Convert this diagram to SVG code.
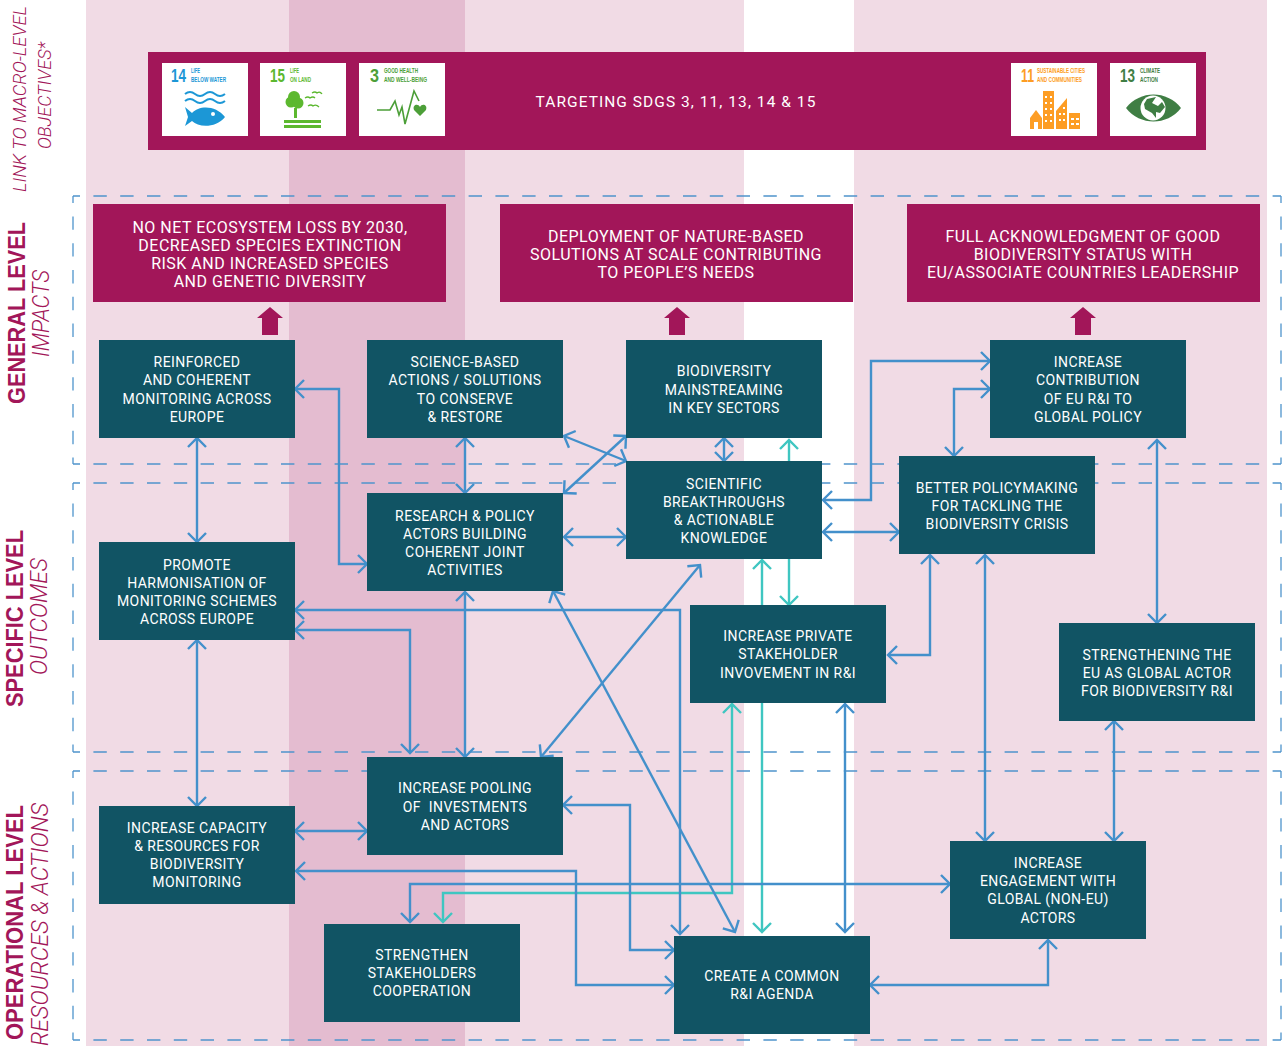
<svg xmlns="http://www.w3.org/2000/svg" width="1282" height="1046" viewBox="0 0 1282 1046">
<style>
.n{fill:#115464}
.m{fill:#a21659}
.t{font-family:Roboto,"Noto Sans",sans-serif;font-weight:400;font-size:14px;letter-spacing:.42px;fill:#fff;text-anchor:middle}
.h{font-family:Roboto,"Noto Sans",sans-serif;font-weight:400;font-size:16px;letter-spacing:.5px;fill:#fff;text-anchor:middle}
.side{fill:#a21659}
.b{font-family:"Liberation Sans",Arial,sans-serif;font-size:24.5px;font-weight:700}
.i{font-family:Roboto,"Noto Sans",sans-serif;font-size:23px;font-style:italic;font-weight:300}
.i2{font-family:Roboto,"Noto Sans",sans-serif;font-size:18px;font-style:italic;font-weight:300}
.c{fill:none;stroke:#4390cb;stroke-width:2.4;marker-start:url(#ab);marker-end:url(#ab)}
.a{fill:none;stroke:#3fc6c1;stroke-width:2.4;marker-start:url(#aa);marker-end:url(#aa)}
.d{fill:none;stroke:#4f94cc;stroke-width:1.3;stroke-dasharray:13.4 13.4;stroke-dashoffset:6.4}
.sn{font-family:"Liberation Sans",sans-serif;font-weight:700;font-size:18px}
.sl{font-family:"Liberation Sans",sans-serif;font-weight:700;font-size:6.5px}
</style>
<defs>
<marker id="ab" viewBox="-12 -12 14 24" refX="0" refY="0" markerWidth="14" markerHeight="24" markerUnits="userSpaceOnUse" orient="auto-start-reverse"><path d="M-9,-9L0,0L-9,9" fill="none" stroke="#4390cb" stroke-width="2.4"/></marker>
<marker id="aa" viewBox="-12 -12 14 24" refX="0" refY="0" markerWidth="14" markerHeight="24" markerUnits="userSpaceOnUse" orient="auto-start-reverse"><path d="M-9,-9L0,0L-9,9" fill="none" stroke="#3fc6c1" stroke-width="2.4"/></marker>
</defs>
<rect width="1282" height="1046" fill="#fff"/>
<rect x="86" y="0" width="658" height="1046" fill="#f1dbe5"/>
<rect x="854" y="0" width="413" height="1046" fill="#f1dbe5"/>
<rect x="289" y="0" width="176" height="1046" fill="#e4bcd0"/>

<g id="side-labels" class="side">
<text class="i2" transform="translate(26,192) rotate(-90)" textLength="186" lengthAdjust="spacingAndGlyphs">LINK TO MACRO-LEVEL</text>
<text class="i2" transform="translate(51,149) rotate(-90)" textLength="107" lengthAdjust="spacingAndGlyphs">OBJECTIVES*</text>
<text class="b" transform="translate(25,404) rotate(-90)" textLength="182" lengthAdjust="spacingAndGlyphs">GENERAL LEVEL</text>
<text class="i" transform="translate(49,357) rotate(-90)" textLength="87" lengthAdjust="spacingAndGlyphs">IMPACTS</text>
<text class="b" transform="translate(22.5,707) rotate(-90)" textLength="177" lengthAdjust="spacingAndGlyphs">SPECIFIC LEVEL</text>
<text class="i" transform="translate(47,675) rotate(-90)" textLength="117" lengthAdjust="spacingAndGlyphs">OUTCOMES</text>
<text class="b" transform="translate(23,1040) rotate(-90)" textLength="235" lengthAdjust="spacingAndGlyphs">OPERATIONAL LEVEL</text>
<text class="i" transform="translate(48,1046) rotate(-90)" textLength="243" lengthAdjust="spacingAndGlyphs">RESOURCES &amp; ACTIONS</text>
</g>

<g id="level-frames">
<path class="d" d="M73,196H1281M73,196V464M1281,196V464M73,464H1281"/>
<path class="d" d="M73,483H1281M73,483V752M1281,483V752M73,752H1281"/>
<path class="d" d="M73,771H1281M73,771V1040M1281,771V1040M73,1040H1281"/>
</g>

<g id="connectors">
<path class="a" d="M789,440V605"/>
<path class="a" d="M762,560V932"/>
<path class="a" d="M443,922V893H732V704"/>
<path class="c" d="M295,389H339V564H367"/>
<path class="c" d="M197,438V542"/>
<path class="c" d="M465,438V493"/>
<path class="c" d="M564,436L626,461"/>
<path class="c" d="M564,493L626,436"/>
<path class="c" d="M724,438V461"/>
<path class="c" d="M564,537H626"/>
<path class="c" d="M823,500H871V361H990"/>
<path class="c" d="M823,532H899"/>
<path class="c" d="M954,456V389H990"/>
<path class="c" d="M1157,440V623"/>
<path class="c" d="M888,655H930V555"/>
<path class="c" d="M985,555V841"/>
<path class="c" d="M1114,721V841"/>
<path class="c" d="M197,640V806"/>
<path class="c" d="M295,610H680V934"/>
<path class="c" d="M295,630H410V753"/>
<path class="c" d="M465,592V757"/>
<path class="c" d="M553,591L735,932"/>
<path class="c" d="M700,565L541,757"/>
<path class="c" d="M295,831H367"/>
<path class="c" d="M563,805H630V950H674"/>
<path class="c" d="M296,871H576V985H674"/>
<path class="c" d="M410,922V884H950"/>
<path class="c" d="M845,704V932"/>
<path class="c" d="M870,985H1048V940"/>
</g>

<g id="sdg-banner">
<rect class="m" x="148" y="52" width="1058" height="98"/>
<text x="676" y="107" font-family="Roboto,Noto Sans,sans-serif" font-weight="400" font-size="15.5" letter-spacing="1.05" fill="#fff" text-anchor="middle">TARGETING SDGS 3, 11, 13, 14 &amp; 15</text>
</g>
<g id="sdg-14">
<rect x="162" y="63" width="86" height="73" fill="#fff"/>
<text class="sn" x="171" y="82" fill="#1c97d6" textLength="15" lengthAdjust="spacingAndGlyphs">14</text>
<text class="sl" x="191" y="73" fill="#1c97d6" textLength="9" lengthAdjust="spacingAndGlyphs">LIFE</text>
<text class="sl" x="191" y="82" fill="#1c97d6" textLength="35" lengthAdjust="spacingAndGlyphs">BELOW WATER</text>
<path d="M185,94q5,-4 10,0t10,0t10,0t10,0M185,101q5,-4 10,0t10,0t10,0t10,0" fill="none" stroke="#1c97d6" stroke-width="2"/>
<path d="M185,107L192,113C199,105 216,105 225,117C216,128 199,128 192,121L185,126L188,117Z" fill="#1c97d6"/>
<circle cx="213" cy="114" r="2" fill="#fff"/>
</g>
<g id="sdg-15">
<rect x="260" y="63" width="86" height="73" fill="#fff"/>
<text class="sn" x="270" y="82" fill="#5cb82f" textLength="15" lengthAdjust="spacingAndGlyphs">15</text>
<text class="sl" x="290" y="73" fill="#5cb82f" textLength="9" lengthAdjust="spacingAndGlyphs">LIFE</text>
<text class="sl" x="290" y="82" fill="#5cb82f" textLength="21" lengthAdjust="spacingAndGlyphs">ON LAND</text>
<circle cx="294" cy="97" r="6" fill="#5cb82f"/><circle cx="291" cy="102" r="5.5" fill="#5cb82f"/><circle cx="298" cy="103" r="5.5" fill="#5cb82f"/>
<rect x="294" y="108" width="3" height="10" fill="#5cb82f"/>
<rect x="284" y="120" width="37" height="3" fill="#5cb82f"/><rect x="284" y="125" width="37" height="3" fill="#5cb82f"/>
<path d="M312,93q3,-2 5,0q3,-2 5,1M305,98q3,-2 5,0q3,-2 5,0M308,106q3,-2 5,0q3,-2 6,1" fill="none" stroke="#5cb82f" stroke-width="1.3"/>
</g>
<g id="sdg-3">
<rect x="359" y="63" width="86" height="73" fill="#fff"/>
<text class="sn" x="370" y="82" fill="#4c9f38" textLength="9" lengthAdjust="spacingAndGlyphs">3</text>
<text class="sl" x="384" y="73" fill="#4c9f38" textLength="34" lengthAdjust="spacingAndGlyphs">GOOD HEALTH</text>
<text class="sl" x="384" y="82" fill="#4c9f38" textLength="43" lengthAdjust="spacingAndGlyphs">AND WELL-BEING</text>
<polyline points="377,110 390,110 395,101 399,115 402,107 405,124 414,91 419,101" fill="none" stroke="#4c9f38" stroke-width="1.6"/>
<path d="M420,116L414,110C412,105 418,103 420,107C422,103 428,105 426,110Z" fill="#4c9f38"/>
</g>
<g id="sdg-11">
<rect x="1011" y="63" width="86" height="73" fill="#fff"/>
<text class="sn" x="1021" y="82" fill="#fd9d24" textLength="13" lengthAdjust="spacingAndGlyphs">11</text>
<text class="sl" x="1037" y="73" fill="#fd9d24" textLength="48" lengthAdjust="spacingAndGlyphs">SUSTAINABLE CITIES</text>
<text class="sl" x="1037" y="82" fill="#fd9d24" textLength="45" lengthAdjust="spacingAndGlyphs">AND COMMUNITIES</text>
<path d="M1030,118L1036,110L1042,118V129H1038V122H1034V129H1030Z" fill="#fd9d24"/>
<path d="M1043,91H1054V129H1043Z" fill="#fd9d24"/>
<path d="M1045,96h2v2h-2zM1050,96h2v2h-2zM1045,102h2v2h-2zM1050,102h2v2h-2zM1045,108h2v2h-2zM1050,108h2v2h-2zM1045,114h2v2h-2zM1050,114h2v2h-2zM1045,120h2v2h-2zM1050,120h2v2h-2z" fill="#fff"/>
<path d="M1056,111L1067,98V129H1056Z" fill="#fd9d24"/>
<path d="M1063,107h2v2h-2zM1059,113h2v2h-2zM1063,113h2v2h-2zM1059,119h2v2h-2zM1063,119h2v2h-2z" fill="#fff"/>
<rect x="1069" y="113" width="11" height="16" fill="#fd9d24"/>
<path d="M1071,118h3v2h-3zM1076,118h3v2h-3zM1071,123h3v2h-3zM1076,123h3v2h-3z" fill="#fff"/>
</g>
<g id="sdg-13">
<rect x="1110" y="63" width="86" height="73" fill="#fff"/>
<text class="sn" x="1120" y="82" fill="#3f7e44" textLength="15" lengthAdjust="spacingAndGlyphs">13</text>
<text class="sl" x="1140" y="73" fill="#3f7e44" textLength="20" lengthAdjust="spacingAndGlyphs">CLIMATE</text>
<text class="sl" x="1140" y="82" fill="#3f7e44" textLength="18" lengthAdjust="spacingAndGlyphs">ACTION</text>
<path d="M1126,108C1140,90 1167,90 1181,108C1167,126 1140,126 1126,108Z" fill="#3f7e44"/>
<circle cx="1153" cy="108" r="12.5" fill="#fff"/>
<path d="M1147,99L1156,97L1152,103L1158,106L1162,102L1165,107L1160,113L1156,112L1156,118L1152,113L1145,109L1144,104Z" fill="#3f7e44"/>
</g>

<g id="impact-1"><rect class="m" x="93" y="204" width="353" height="98"/>
<text class="h" x="270" y="233">NO NET ECOSYSTEM LOSS BY 2030,</text><text class="h" x="270" y="251">DECREASED SPECIES EXTINCTION</text><text class="h" x="270" y="269">RISK AND INCREASED SPECIES</text><text class="h" x="270" y="287">AND GENETIC DIVERSITY</text></g>
<g id="impact-2"><rect class="m" x="500" y="204" width="353" height="98"/>
<text class="h" x="676" y="242">DEPLOYMENT OF NATURE-BASED</text><text class="h" x="676" y="260">SOLUTIONS AT SCALE CONTRIBUTING</text><text class="h" x="676" y="278">TO PEOPLE’S NEEDS</text></g>
<g id="impact-3"><rect class="m" x="907" y="204" width="353" height="98"/>
<text class="h" x="1083" y="242">FULL ACKNOWLEDGMENT OF GOOD</text><text class="h" x="1083" y="260">BIODIVERSITY STATUS WITH</text><text class="h" x="1083" y="278">EU/ASSOCIATE COUNTRIES LEADERSHIP</text></g>
<path id="up-1" class="m" d="M270,307L283,318H278V335H262V318H257Z"/>
<path id="up-2" class="m" d="M677,307L690,318H685V335H669V318H664Z"/>
<path id="up-3" class="m" d="M1083,307L1096,318H1091V335H1075V318H1070Z"/>

<g id="reinforced"><rect class="n" x="99" y="340" width="196" height="98"/>
<text class="t" x="197" y="367">REINFORCED</text><text class="t" x="197" y="385">AND COHERENT</text><text class="t" x="197" y="404">MONITORING ACROSS</text><text class="t" x="197" y="422">EUROPE</text></g>
<g id="science"><rect class="n" x="367" y="340" width="196" height="98"/>
<text class="t" x="465" y="367">SCIENCE-BASED</text><text class="t" x="465" y="385">ACTIONS / SOLUTIONS</text><text class="t" x="465" y="404">TO CONSERVE</text><text class="t" x="465" y="422">&amp; RESTORE</text></g>
<g id="mainstreaming"><rect class="n" x="626" y="340" width="196" height="98"/>
<text class="t" x="724" y="376">BIODIVERSITY</text><text class="t" x="724" y="395">MAINSTREAMING</text><text class="t" x="724" y="413">IN KEY SECTORS</text></g>
<g id="contribution"><rect class="n" x="990" y="340" width="196" height="98"/>
<text class="t" x="1088" y="367">INCREASE</text><text class="t" x="1088" y="385">CONTRIBUTION</text><text class="t" x="1088" y="404">OF EU R&amp;I TO</text><text class="t" x="1088" y="422">GLOBAL POLICY</text></g>
<g id="scientific"><rect class="n" x="626" y="461" width="196" height="98"/>
<text class="t" x="724" y="489">SCIENTIFIC</text><text class="t" x="724" y="507">BREAKTHROUGHS</text><text class="t" x="724" y="525">&amp; ACTIONABLE</text><text class="t" x="724" y="543">KNOWLEDGE</text></g>
<g id="research"><rect class="n" x="367" y="493" width="196" height="98"/>
<text class="t" x="465" y="521">RESEARCH &amp; POLICY</text><text class="t" x="465" y="539">ACTORS BUILDING</text><text class="t" x="465" y="557">COHERENT JOINT</text><text class="t" x="465" y="575">ACTIVITIES</text></g>
<g id="policymaking"><rect class="n" x="899" y="456" width="196" height="98"/>
<text class="t" x="997" y="493">BETTER POLICYMAKING</text><text class="t" x="997" y="511">FOR TACKLING THE</text><text class="t" x="997" y="529">BIODIVERSITY CRISIS</text></g>
<g id="promote"><rect class="n" x="99" y="542" width="196" height="98"/>
<text class="t" x="197" y="570">PROMOTE</text><text class="t" x="197" y="588">HARMONISATION OF</text><text class="t" x="197" y="606">MONITORING SCHEMES</text><text class="t" x="197" y="624">ACROSS EUROPE</text></g>
<g id="private"><rect class="n" x="690" y="605" width="196" height="98"/>
<text class="t" x="788" y="641">INCREASE PRIVATE</text><text class="t" x="788" y="659">STAKEHOLDER</text><text class="t" x="788" y="678">INVOVEMENT IN R&amp;I</text></g>
<g id="global-actor"><rect class="n" x="1059" y="623" width="196" height="98"/>
<text class="t" x="1157" y="660">STRENGTHENING THE</text><text class="t" x="1157" y="678">EU AS GLOBAL ACTOR</text><text class="t" x="1157" y="696">FOR BIODIVERSITY R&amp;I</text></g>
<g id="pooling"><rect class="n" x="367" y="757" width="196" height="98"/>
<text class="t" x="465" y="793">INCREASE POOLING</text><text class="t" x="465" y="812" xml:space="preserve">OF  INVESTMENTS</text><text class="t" x="465" y="830">AND ACTORS</text></g>
<g id="capacity"><rect class="n" x="99" y="806" width="196" height="98"/>
<text class="t" x="197" y="833">INCREASE CAPACITY</text><text class="t" x="197" y="851">&amp; RESOURCES FOR</text><text class="t" x="197" y="869">BIODIVERSITY</text><text class="t" x="197" y="887">MONITORING</text></g>
<g id="engagement"><rect class="n" x="950" y="841" width="196" height="98"/>
<text class="t" x="1048" y="868">INCREASE</text><text class="t" x="1048" y="886">ENGAGEMENT WITH</text><text class="t" x="1048" y="904">GLOBAL (NON-EU)</text><text class="t" x="1048" y="923">ACTORS</text></g>
<g id="cooperation"><rect class="n" x="324" y="924" width="196" height="98"/>
<text class="t" x="422" y="960">STRENGTHEN</text><text class="t" x="422" y="978">STAKEHOLDERS</text><text class="t" x="422" y="996">COOPERATION</text></g>
<g id="agenda"><rect class="n" x="674" y="936" width="196" height="98"/>
<text class="t" x="772" y="981">CREATE A COMMON</text><text class="t" x="772" y="999">R&amp;I AGENDA</text></g>
</svg>
